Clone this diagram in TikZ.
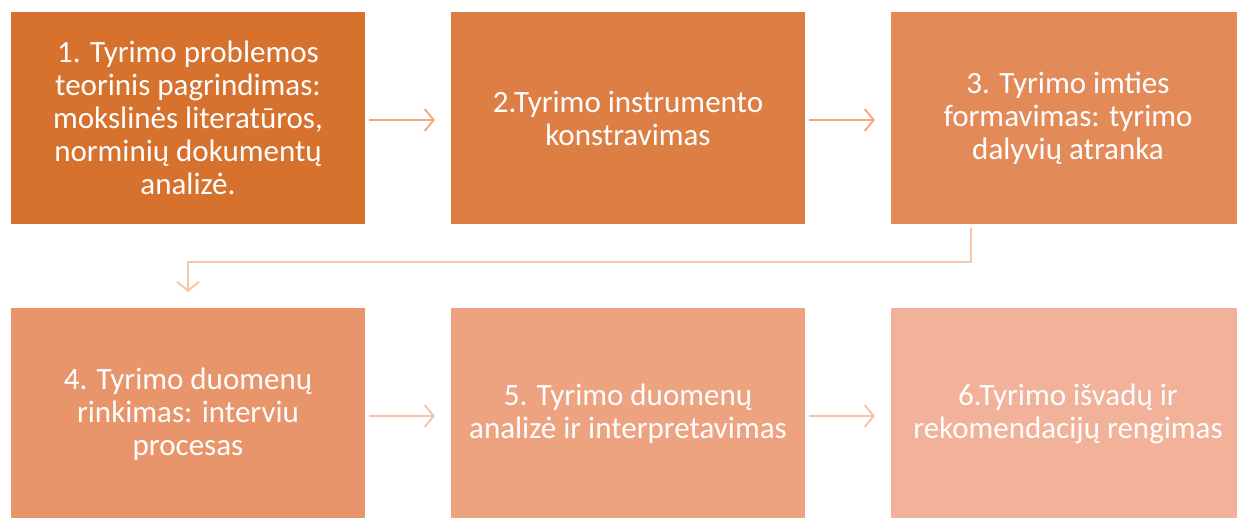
\documentclass[tikz,border=0pt]{standalone}
\usepackage{fontspec}
\setmainfont{Carlito}
\usetikzlibrary{positioning,arrows.meta}
\definecolor{stepA}{RGB}{214,113,46}
\definecolor{stepB}{RGB}{221,126,68}
\definecolor{stepC}{RGB}{227,138,89}
\definecolor{stepD}{RGB}{233,149,108}
\definecolor{stepE}{RGB}{237,162,128}
\definecolor{stepF}{RGB}{242,178,154}
\definecolor{linkA}{RGB}{242,170,126}
\definecolor{linkB}{RGB}{247,196,172}
\begin{document}
\begin{tikzpicture}[x=1pt,y=1pt,line join=round,
		box/.style={minimum width=354pt,minimum height=212pt,inner sep=0pt,outer sep=0pt,
			text=white,align=center,font=\fontsize{31}{33}\selectfont},
		link/.style={line width=2.4pt,shorten <=4pt,shorten >=16pt,
			-{Straight Barb[length=9pt,width=22pt,line width=2pt]}}]
	\useasboundingbox (0,0) rectangle (1237,-518);
	\clip (0,0) rectangle (1237,-518);
	% upper row
	\node[box,fill=stepA] (s1) at (188,-118) {1. Tyrimo problemos\\teorinis pagrindimas:\\mokslinės literatūros,\\norminių dokumentų\\analizė.};
	\node[box,fill=stepB,right=86pt of s1] (s2) {2.Tyrimo instrumento\\konstravimas};
	\node[box,fill=stepC,right=86pt of s2] (s3) {3. Tyrimo imties\\formavimas: tyrimo\\dalyvių atranka};
	% lower row
	\node[box,fill=stepD,below=84pt of s1] (s4) {4. Tyrimo duomenų\\rinkimas: interviu\\procesas};
	\node[box,fill=stepE,right=86pt of s4] (s5) {5. Tyrimo duomenų\\analizė ir interpretavimas};
	\node[box,fill=stepF,right=86pt of s5] (s6) {6.Tyrimo išvadų ir\\rekomendacijų rengimas};
	\foreach \a/\b/\c in {s1/s2/linkA,s2/s3/linkA,s4/s5/linkB,s5/s6/linkB}
		\draw[link,draw=\c] ([yshift=-2pt]\a.east) -- ([yshift=-2pt]\b.west);
	\coordinate (turn) at ([xshift=-97pt]s3.south);
	\draw[link,draw=linkB] (turn) -- ++(0,-38) -| (s4.north);
\end{tikzpicture}
\end{document}
